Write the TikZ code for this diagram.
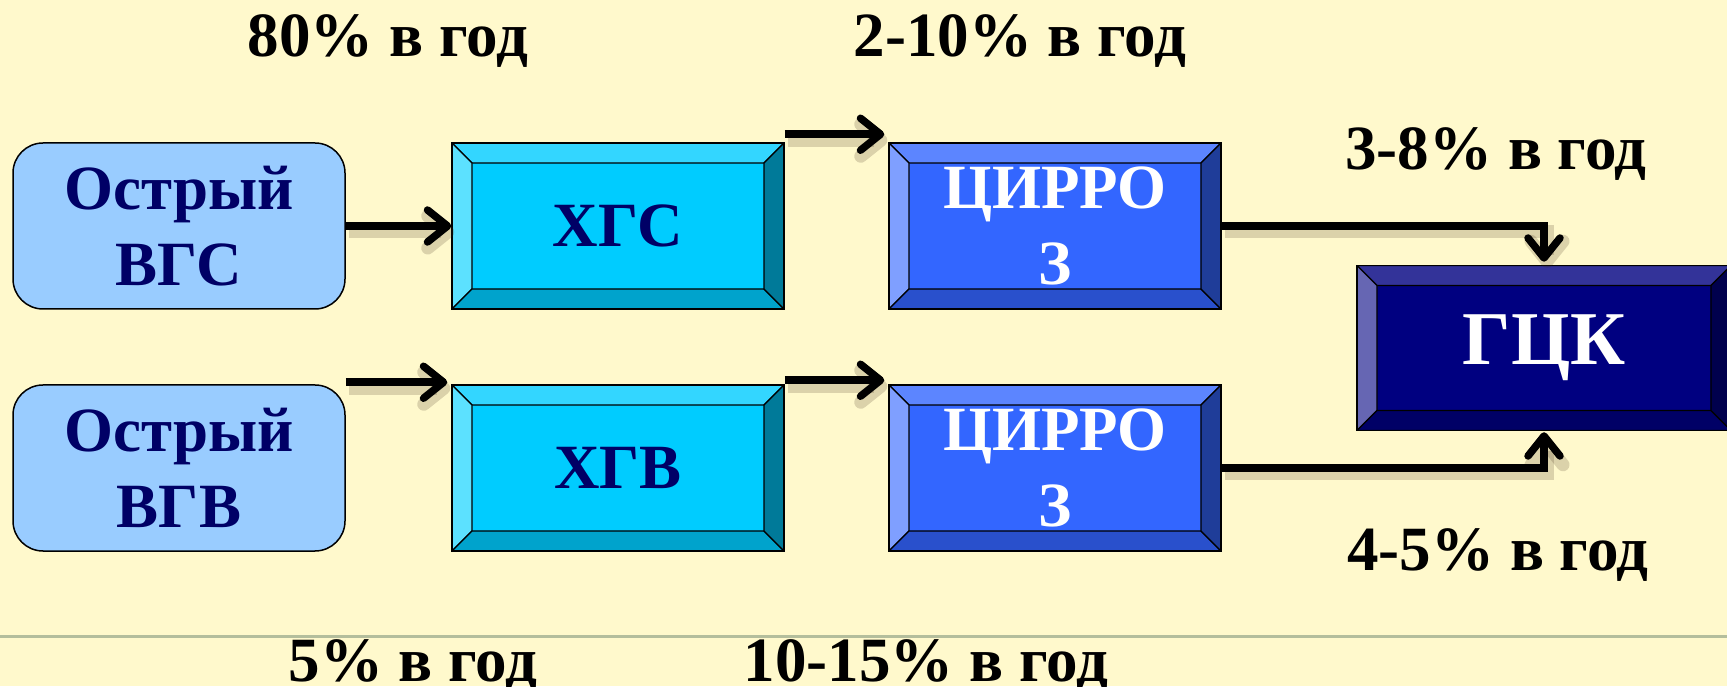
\documentclass[tikz,border=0pt]{standalone}
\usepackage{fontspec}
\setmainfont{Liberation Serif}
\usetikzlibrary{arrows.meta}

\definecolor{paper}{HTML}{FFF9CC}
\definecolor{navytext}{HTML}{000066}
\definecolor{acutefill}{HTML}{99CCFF}
\definecolor{rulegray}{HTML}{B4BE9C}
% chronic hepatitis boxes
\definecolor{hgface}{HTML}{00CCFF}
\definecolor{hgtop}{HTML}{33D6FF}
\definecolor{hgleft}{HTML}{5CE1FF}
\definecolor{hgbottom}{HTML}{00A3CC}
\definecolor{hgright}{HTML}{007A99}
% cirrhosis boxes
\definecolor{ciface}{HTML}{3366FF}
\definecolor{citop}{HTML}{5C85FF}
\definecolor{cileft}{HTML}{7F9FFF}
\definecolor{cibottom}{HTML}{2950CC}
\definecolor{ciright}{HTML}{1F3D99}
% carcinoma box
\definecolor{gcface}{HTML}{000080}
\definecolor{gctop}{HTML}{333399}
\definecolor{gcleft}{HTML}{6666B3}
\definecolor{gcbottom}{HTML}{000066}
\definecolor{gcright}{HTML}{00004D}

\tikzset{
  acute/.style={draw=black, line width=1.5pt, fill=acutefill, rounded corners=30pt,
    minimum width=332pt, minimum height=166pt, inner sep=0pt, align=center,
    text=navytext, font=\fontsize{63}{76}\selectfont\bfseries},
  bevel/.style={draw=black, line width=1.5pt, fill=#1face,
    minimum width=332pt, minimum height=166pt, inner sep=0pt, align=center,
    font=\fontsize{63}{76}\selectfont\bfseries,
    path picture={
      \coordinate (pnw) at (path picture bounding box.north west);
      \coordinate (pne) at (path picture bounding box.north east);
      \coordinate (psw) at (path picture bounding box.south west);
      \coordinate (pse) at (path picture bounding box.south east);
      \filldraw[fill=#1top, line width=1.2pt] (pnw) -- (pne) -- ([shift={(-20pt,-20pt)}]pne) -- ([shift={(20pt,-20pt)}]pnw) -- cycle;
      \filldraw[fill=#1left, line width=1.2pt] (pnw) -- ([shift={(20pt,-20pt)}]pnw) -- ([shift={(20pt,20pt)}]psw) -- (psw) -- cycle;
      \filldraw[fill=#1bottom, line width=1.2pt] (psw) -- ([shift={(20pt,20pt)}]psw) -- ([shift={(-20pt,20pt)}]pse) -- (pse) -- cycle;
      \filldraw[fill=#1right, line width=1.2pt] (pse) -- ([shift={(-20pt,20pt)}]pse) -- ([shift={(-20pt,-20pt)}]pne) -- (pne) -- cycle;
    }},
  flow/.style={line width=7.5pt, -{Straight Barb[length=20pt,width=32pt,round]},
    preaction={draw=black!70!brown, draw opacity=0.18, line width=13pt,
      transform canvas={shift={(3pt,-6pt)}}}},
  rate/.style={anchor=base, inner sep=0pt, font=\fontsize{63}{70}\selectfont\bfseries}
}

\begin{document}
\begin{tikzpicture}[x=1pt, y=1pt]
\useasboundingbox (0,0) rectangle (1727,686);
\clip (0,0) rectangle (1727,686);
\fill[paper] (0,0) rectangle (1727,686);

% rule near the bottom
\draw[rulegray, line width=3pt] (0,50) -- (1727,50);

% left column
\node[acute] (vgs) at (179,460) {Острый\\ВГС};
\node[acute] (vgv) at (179,218) {Острый\\ВГВ};

% chronic hepatitis
\node[bevel=hg, text=navytext] (hgs) at (618,460) {ХГС};
\node[bevel=hg, text=navytext] (hgv) at (618,218) {ХГВ};

% cirrhosis
\node[bevel=ci, text=white] (cirro1) at (1055,460) {ЦИРРО\\З};
\node[bevel=ci, text=white] (cirro2) at (1055,218) {ЦИРРО\\З};

% carcinoma
\node[bevel=gc, text=white, minimum width=374pt, minimum height=165pt,
  font=\fontsize{76}{80}\selectfont\bfseries] (gck) at (1544,338) {ГЦК};

% arrows
\draw[flow] (vgs.east) -- (hgs.west);
\draw[flow] ([yshift=8pt]hgs.north east) -- ([xshift=-4pt,yshift=8pt]cirro1.north west);
\draw[flow] ([yshift=2pt]vgv.north east) -- ([xshift=-4pt,yshift=2pt]hgv.north west);
\draw[flow] ([yshift=4pt]hgv.north east) -- ([xshift=-4pt,yshift=4pt]cirro2.north west);
\draw[flow] (cirro1.east) -| ([yshift=3pt]gck.north);
\draw[flow] (cirro2.east) -| ([yshift=-1pt]gck.south);

% rates
\node[rate] (r80) at (388,629) {80\% в год};
\node[rate] (r210) at (1020,629) {2-10\% в год};
\node[rate] (r38) at (1496,516) {3-8\% в год};
\node[rate] (r45) at (1498,116) {4-5\% в год};
\node[rate] (r5) at (413,5) {5\% в год};
\node[rate] (r1015) at (926,5) {10-15\% в год};
\end{tikzpicture}
\end{document}
